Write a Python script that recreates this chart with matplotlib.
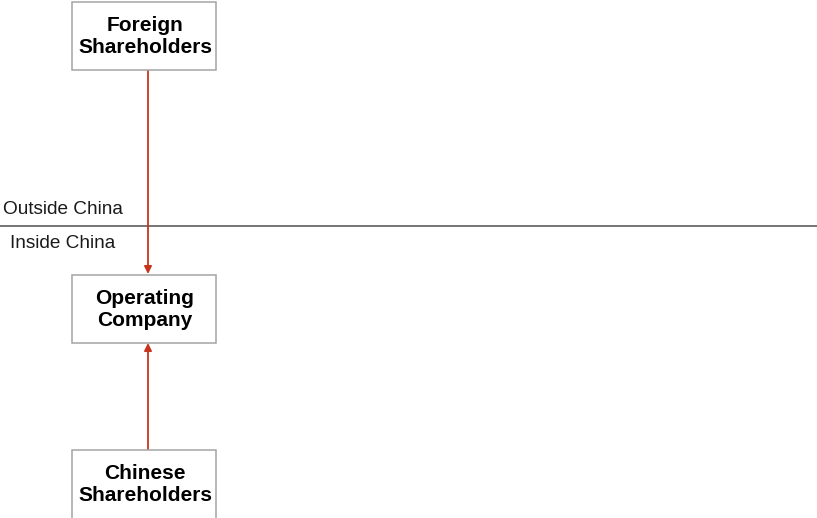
import matplotlib
matplotlib.use('Agg')
import matplotlib.pyplot as plt
from matplotlib.patches import Rectangle

plt.rcParams['font.family'] = ['Liberation Sans', 'DejaVu Sans']

# data
box_labels = ['Foreign\nShareholders', 'Operating\nCompany', 'Chinese\nShareholders']
region_labels = ['Outside China', 'Inside China']
# arrows: (from box, to box)
links = [(0, 1), (2, 1)]

# layout (pixel coords, y downwards)
box_x, box_w, box_h = 72.5, 144, 68
box_top = [1.5, 274.5, 449.5]
border_y = 226
red = '#c8341c'

fig = plt.figure(figsize=(8.17, 5.18), dpi=100)
ax = fig.add_axes([0, 0, 1, 1])
ax.set_xlim(0, 817)
ax.set_ylim(518, 0)
ax.axis('off')

for lab, top in zip(box_labels, box_top):
    # last box runs off the bottom of the picture
    h = box_h if top + box_h + 3 < 518 else 200
    ax.add_patch(Rectangle((box_x, top), box_w, h, facecolor='white',
                           edgecolor='#a4a4a4', lw=1.1, zorder=3))
    ax.text(box_x + box_w / 2 + 0.5, top + 35, lab, ha='center', va='center',
            fontsize=15, fontweight='bold', linespacing=1.25, zorder=4)

cx = 148
for a, b in links:
    if box_top[a] < box_top[b]:
        y0, y1 = box_top[a] + box_h, box_top[b] - 0.5
    else:
        y0, y1 = box_top[a], box_top[b] + box_h + 0.5
    ax.annotate('', xy=(cx, y1), xytext=(cx, y0),
                arrowprops=dict(arrowstyle='-|>', color=red, lw=1.3,
                                mutation_scale=11, shrinkA=0, shrinkB=0), zorder=2)

ax.plot([0, 817], [border_y, border_y], color='#505050', lw=1.1, zorder=1)
ax.text(3, border_y - 16, region_labels[0], ha='left', va='center',
        fontsize=13.7, color='#1a1a1a')
ax.text(10, border_y + 17, region_labels[1], ha='left', va='center',
        fontsize=13.7, color='#1a1a1a')

fig.savefig('out.png', dpi=100)
